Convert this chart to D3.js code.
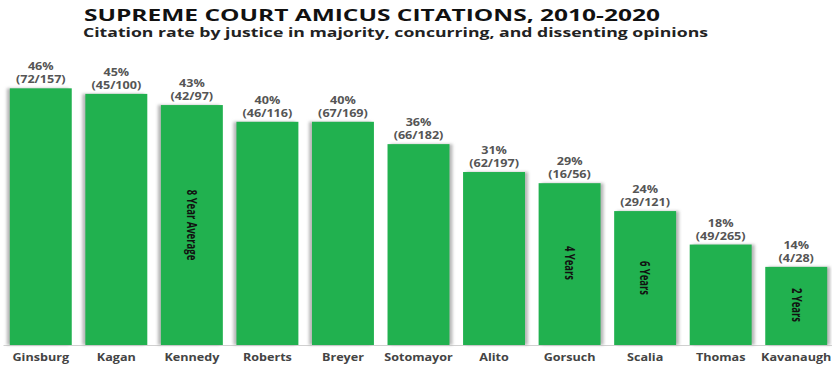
<!DOCTYPE html>
<html>
<head>
<meta charset="utf-8">
<script src="https://cdn.jsdelivr.net/npm/d3@7"></script>
<style>
  body { margin: 0; background: #fff; }
  svg text { font-family: "Open Sans", "DejaVu Sans", sans-serif; }
</style>
</head>
<body>
<div id="chart"></div>
<script>
// Data
const justices = ["Ginsburg", "Kagan", "Kennedy", "Roberts", "Breyer", "Sotomayor", "Alito", "Gorsuch", "Scalia", "Thomas", "Kavanaugh"];
const rates = [46, 45, 43, 40, 40, 36, 31, 29, 24, 18, 14];
const fractions = ["(72/157)", "(45/100)", "(42/97)", "(46/116)", "(67/169)", "(66/182)", "(62/197)", "(16/56)", "(29/121)", "(49/265)", "(4/28)"];
const notes = ["", "", "8 Year Average", "", "", "", "", "4 Years", "6 Years", "", "2 Years"];
const noteCenters = [0, 0, 225, 0, 0, 0, 0, 263, 278, 0, 305];

const svgWidth = 832;
const svgHeight = 368;
const stretch = 1.2; // the picture is wider than it is tall, so text is too

const svg = d3.select("#chart")
  .append("svg")
  .attr("width", svgWidth)
  .attr("height", svgHeight);

// shadow filter
const defs = svg.append("defs");
defs.append("filter")
  .attr("id", "soft")
  .attr("x", "-20%").attr("width", "140%")
  .append("feGaussianBlur")
  .attr("stdDeviation", 1.5);

// Scales
const xScale = d3.scaleBand()
  .domain(justices)
  .range([3, 834])
  .paddingInner(0.18)
  .paddingOuter(0.09);

const yScale = d3.scaleLinear()
  .domain([0, 50])
  .range([345, 66]);

// Title
svg.append("text")
  .attr("x", 84)
  .attr("y", 21)
  .attr("font-size", 15.5)
  .attr("font-weight", "bold")
  .attr("fill", "#111")
  .attr("textLength", 576)
  .attr("lengthAdjust", "spacingAndGlyphs")
  .text("SUPREME COURT AMICUS CITATIONS, 2010-2020");

svg.append("text")
  .attr("x", 83)
  .attr("y", 37)
  .attr("font-size", 12.3)
  .attr("font-weight", "bold")
  .attr("fill", "#222")
  .attr("textLength", 625)
  .attr("lengthAdjust", "spacingAndGlyphs")
  .text("Citation rate by justice in majority, concurring, and dissenting opinions");

// Axis
const xAxis = d3.axisBottom(xScale).tickSize(0).tickPadding(9);
const axisG = svg.append("g")
  .attr("transform", `translate(0, ${yScale(0)})`)
  .call(xAxis);
axisG.select(".domain").attr("stroke", "#d0d0d0");
axisG.selectAll(".tick text")
  .attr("font-size", 10.5)
  .attr("font-weight", "bold")
  .attr("fill", "#444")
  .attr("font-family", "\"Open Sans\", sans-serif")
  .attr("transform", `scale(${stretch}, 1)`);

// Bars
const bars = svg.selectAll("g.bar")
  .data(justices)
  .enter()
  .append("g")
  .attr("class", "bar");

bars.append("rect")
  .attr("x", (d, i) => xScale(d) + (i < 5 ? -3 : 3))
  .attr("y", (d, i) => yScale(rates[i]))
  .attr("width", xScale.bandwidth())
  .attr("height", (d, i) => yScale(0) - yScale(rates[i]))
  .attr("fill", "#b8b8b8")
  .attr("filter", "url(#soft)");

bars.append("rect")
  .attr("x", d => xScale(d))
  .attr("y", (d, i) => yScale(rates[i]))
  .attr("width", xScale.bandwidth())
  .attr("height", (d, i) => yScale(0) - yScale(rates[i]))
  .attr("fill", "#21b14f");

// Value labels
bars.append("text")
  .attr("transform", (d, i) => `translate(${xScale(d) + xScale.bandwidth() / 2}, ${yScale(rates[i]) - 18}) scale(${stretch}, 1)`)
  .attr("text-anchor", "middle")
  .attr("font-size", 10.5)
  .attr("font-weight", "bold")
  .attr("fill", "#555")
  .text((d, i) => rates[i] + "%");

bars.append("text")
  .attr("transform", (d, i) => `translate(${xScale(d) + xScale.bandwidth() / 2}, ${yScale(rates[i]) - 5}) scale(${stretch}, 1)`)
  .attr("text-anchor", "middle")
  .attr("font-size", 10.5)
  .attr("font-weight", "bold")
  .attr("fill", "#555")
  .text((d, i) => fractions[i]);

// Rotated notes inside bars
bars.filter((d, i) => notes[i] !== "")
  .append("text")
  .attr("transform", d => {
    const idx = justices.indexOf(d);
    return `translate(${xScale(d) + xScale.bandwidth() / 2}, ${noteCenters[idx]}) rotate(90) scale(1, 1.4)`;
  })
  .attr("dy", "0.35em")
  .attr("text-anchor", "middle")
  .attr("font-size", 9.5)
  .attr("font-weight", "bold")
  .attr("fill", "#111")
  .text(d => notes[justices.indexOf(d)]);
</script>
</body>
</html>
